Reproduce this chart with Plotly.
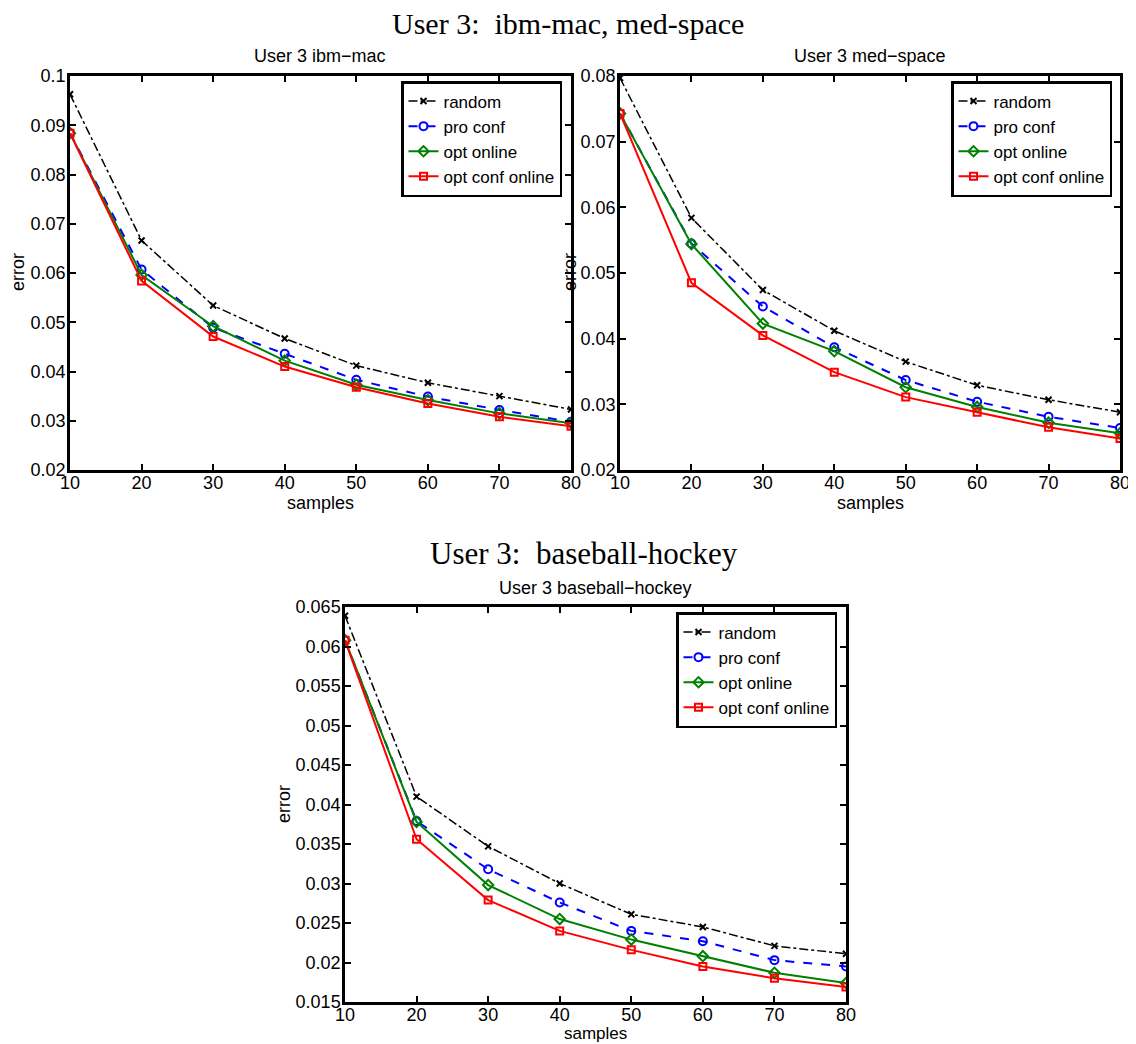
import plotly.graph_objects as go

samples = [10, 20, 30, 40, 50, 60, 70, 80]
series_names = ["random", "pro conf", "opt online", "opt conf online"]

# User 3 ibm-mac
ibm_random = [0.0963, 0.0666, 0.0534, 0.0467, 0.0412, 0.0377, 0.0350, 0.0323]
ibm_proconf = [0.0884, 0.0607, 0.0489, 0.0436, 0.0383, 0.0349, 0.0322, 0.0298]
ibm_optonline = [0.0884, 0.0596, 0.0492, 0.0422, 0.0373, 0.0342, 0.0315, 0.0295]
ibm_optconf = [0.0884, 0.0584, 0.0471, 0.0410, 0.0368, 0.0335, 0.0308, 0.0289]

# User 3 med-space
med_random = [0.0797, 0.0584, 0.0474, 0.0412, 0.0365, 0.0329, 0.0307, 0.0288]
med_proconf = [0.0743, 0.0545, 0.0449, 0.0387, 0.0337, 0.0304, 0.0281, 0.0264]
med_optonline = [0.0743, 0.0544, 0.0423, 0.0381, 0.0326, 0.0296, 0.0272, 0.0256]
med_optconf = [0.0743, 0.0485, 0.0405, 0.0349, 0.0311, 0.0288, 0.0265, 0.0248]

# User 3 baseball-hockey
bh_random = [0.0639, 0.0410, 0.0347, 0.0300, 0.0261, 0.0245, 0.0221, 0.0211]
bh_proconf = [0.0608, 0.0379, 0.0318, 0.0276, 0.0240, 0.0227, 0.0203, 0.0195]
bh_optonline = [0.0608, 0.0378, 0.0298, 0.0255, 0.0229, 0.0208, 0.0187, 0.0174]
bh_optconf = [0.0608, 0.0356, 0.0279, 0.0240, 0.0216, 0.0195, 0.0180, 0.0169]

styles = [
    dict(color="black", dash="dashdot", symbol="x-thin-open", size=6, width=1.5),
    dict(color="#0000ff", dash="dash", symbol="circle-open", size=8, width=2),
    dict(color="#008000", dash="solid", symbol="diamond-open", size=8, width=2),
    dict(color="#ff0000", dash="solid", symbol="square-open", size=7, width=2),
]

panels = [
    dict(data=[ibm_random, ibm_proconf, ibm_optonline, ibm_optconf], xa="x", ya="y", leg="legend"),
    dict(data=[med_random, med_proconf, med_optonline, med_optconf], xa="x2", ya="y2", leg="legend2"),
    dict(data=[bh_random, bh_proconf, bh_optonline, bh_optconf], xa="x3", ya="y3", leg="legend3"),
]

fig = go.Figure()
for p in panels:
    for name, vals, st in zip(series_names, p["data"], styles):
        fig.add_trace(go.Scatter(
            x=samples, y=vals, name=name, mode="lines+markers",
            xaxis=p["xa"], yaxis=p["ya"], legend=p["leg"],
            line=dict(color=st["color"], dash=st["dash"], width=st["width"]),
            marker=dict(symbol=st["symbol"], size=st["size"], color=st["color"],
                        line=dict(color=st["color"], width=2)),
        ))

# page body has an 8px default margin at top/left
OFF = 8
W, H = 1136 - OFF, 1044 - OFF
font = "Liberation Sans, Arial, sans-serif"

def fx(px):
    return (px - OFF) / W

def fy(py):
    return 1 - (py - OFF) / H

def xd(a, b):
    return [fx(a), fx(b)]

def yd(top, bottom):
    return [fy(bottom), fy(top)]

axis_common = dict(showline=True, linecolor="black", linewidth=2.5, mirror="allticks",
                   ticks="inside", ticklen=6, tickwidth=1.5, tickcolor="black",
                   showgrid=False, zeroline=False, automargin=False,
                   ticklabeloverflow="allow",
                   tickfont=dict(family=font, size=18, color="black"))

def xaxis(dom, anchor):
    return dict(axis_common, domain=dom, anchor=anchor, range=[10, 80],
                tickvals=samples, ticktext=[str(s) for s in samples],
                ticklabelstandoff=-5)

def yaxis(dom, anchor, rng, dt, fmt):
    vals = []
    v = rng[0]
    while v <= rng[1] + 1e-9:
        vals.append(round(v, 4))
        v += dt
    return dict(axis_common, domain=dom, anchor=anchor, range=rng,
                tickvals=vals, ticktext=[fmt(t) for t in vals], ticklabelstandoff=-2)

def f_short(t):
    return ("%.3f" % t).rstrip("0")

leg_common = dict(bgcolor="white", bordercolor="black", borderwidth=2.5,
                  font=dict(family=font, size=17, color="black"),
                  xanchor="left", yanchor="top", tracegroupgap=0, itemwidth=30)

fig.update_layout(
    template="none",
    width=W, height=H, autosize=False,
    margin=dict(l=0, r=0, t=0, b=0, pad=0),
    paper_bgcolor="white", plot_bgcolor="white",
    xaxis=xaxis(xd(70, 571), "y"),
    yaxis=yaxis(yd(76, 470), "x", [0.02, 0.1], 0.01, f_short),
    xaxis2=xaxis(xd(620, 1120), "y2"),
    yaxis2=yaxis(yd(76, 470), "x2", [0.02, 0.08], 0.01, f_short),
    xaxis3=xaxis(xd(345, 846), "y3"),
    yaxis3=yaxis(yd(607, 1002), "x3", [0.015, 0.065], 0.005, f_short),
    legend=dict(leg_common, x=fx(401), y=fy(81)),
    legend2=dict(leg_common, x=fx(951), y=fy(81)),
    legend3=dict(leg_common, x=fx(676), y=fy(612)),
    showlegend=True,
)

serif = "Liberation Serif, DejaVu Serif, serif"
sp = "\u00a0"
annots = [
    dict(text="User 3:" + sp + sp + "ibm-mac, med-space", x=568, y=23, size=30, fam=serif, rot=0),
    dict(text="User 3 ibm\u2212mac", x=320, y=56, size=18, fam=font, rot=0),
    dict(text="User 3 med\u2212space", x=870, y=56, size=18, fam=font, rot=0),
    dict(text="User 3:" + sp + sp + "baseball-hockey", x=584, y=553, size=31, fam=serif, rot=0),
    dict(text="User 3 baseball\u2212hockey", x=595, y=588, size=18, fam=font, rot=0),
    dict(text="samples", x=320, y=503, size=18, fam=font, rot=0),
    dict(text="samples", x=870, y=503, size=18, fam=font, rot=0),
    dict(text="samples", x=595, y=1033, size=17, fam=font, rot=0),
    dict(text="error", x=18, y=272, size=18, fam=font, rot=-90),
    dict(text="error", x=570, y=272, size=18, fam=font, rot=-90),
    dict(text="error", x=284, y=804, size=18, fam=font, rot=-90),
]
for a in annots:
    fig.add_annotation(text=a["text"], x=fx(a["x"]), y=fy(a["y"]), xref="paper", yref="paper",
                       xanchor="center", yanchor="middle", showarrow=False, textangle=a["rot"],
                       font=dict(family=a["fam"], size=a["size"], color="black"))

fig.write_html("out.html")
